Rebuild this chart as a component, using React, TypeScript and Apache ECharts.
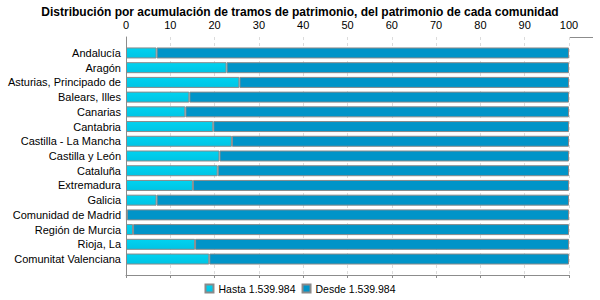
import React, { useEffect, useRef } from "react";
import * as echarts from "echarts";

const categories = [
  "Andalucía",
  "Aragón",
  "Asturias, Principado de",
  "Balears, Illes",
  "Canarias",
  "Cantabria",
  "Castilla - La Mancha",
  "Castilla y León",
  "Cataluña",
  "Extremadura",
  "Galicia",
  "Comunidad de Madrid",
  "Región de Murcia",
  "Rioja, La",
  "Comunitat Valenciana",
];

const hasta = [6.9, 22.7, 25.6, 14.3, 13.4, 19.7, 23.9, 21.1, 20.7, 15.1, 6.9, 0.2, 1.6, 15.6, 18.8];
const desde = [93.1, 77.3, 74.4, 85.7, 86.6, 80.3, 76.1, 78.9, 79.3, 84.9, 93.1, 99.8, 98.4, 84.4, 81.2];

const seriesNames = ["Hasta 1.539.984", "Desde 1.539.984"];
const titleText = "Distribución por acumulación de tramos de patrimonio, del patrimonio de cada comunidad";

const FONT = "'Liberation Sans', Arial, sans-serif";

export default function App() {
  const ref = useRef<HTMLDivElement>(null);
  useEffect(() => {
    if (!ref.current) return;
    const chart = echarts.init(ref.current, null, { renderer: "svg" });
    chart.setOption({
      animation: false,
      textStyle: { fontFamily: FONT },
      title: {
        text: titleText,
        left: "center",
        top: 1,
        textStyle: { fontSize: 12, fontWeight: "bold", color: "#000", fontFamily: FONT },
      },
      legend: {
        top: 283,
        left: "center",
        padding: 0,
        itemWidth: 8,
        itemHeight: 8,
        itemGap: 6,
        icon: "rect",
        textStyle: { fontSize: 10.5, color: "#000", fontFamily: FONT },
        data: seriesNames,
      },
      grid: [
        { left: 126, right: 31, top: 37, height: 238 },
        { left: 126, right: 31, top: 45.6, height: 220.8 },
      ],
      xAxis: [
        {
          gridIndex: 0,
          type: "value",
          position: "top",
          min: 0,
          max: 100,
          interval: 10,
          axisLine: { show: true, lineStyle: { color: "#8c8c8c" } },
          axisTick: { show: true, inside: true, length: 3, lineStyle: { color: "#8c8c8c" } },
          axisLabel: { fontSize: 11, color: "#000", margin: 7, fontFamily: FONT },
          splitLine: { show: true, lineStyle: { color: "#dcdcdc", type: [3, 3] } },
        },
        { gridIndex: 1, type: "value", min: 0, max: 100, show: false },
      ],
      yAxis: [
        {
          gridIndex: 0,
          type: "value",
          min: 0,
          max: 1,
          axisLine: { show: true, lineStyle: { color: "#8c8c8c" } },
          axisTick: { show: false },
          axisLabel: { show: false },
          splitLine: { show: false },
        },
        {
          gridIndex: 1,
          type: "category",
          data: categories,
          inverse: true,
          axisLine: { show: false },
          axisTick: { show: false },
          axisLabel: { fontSize: 11, color: "#000", margin: 5, fontFamily: FONT },
          splitLine: { show: false },
        },
      ],
      graphic: [
        {
          type: "line",
          shape: { x1: 569, y1: 37.5, x2: 593, y2: 37.5 },
          style: { stroke: "#8c8c8c", lineWidth: 1 },
          silent: true,
        },
      ],
      series: [
        {
          name: seriesNames[0],
          type: "bar",
          stack: "total",
          xAxisIndex: 1,
          yAxisIndex: 1,
          barWidth: 11,
          data: hasta,
          itemStyle: {
            color: new echarts.graphic.LinearGradient(0, 0, 0, 1, [
              { offset: 0, color: "#00d2f0" },
              { offset: 1, color: "#00c4e4" },
            ]),
            borderColor: "#8a8a8a",
            borderWidth: 1,
          },
        },
        {
          name: seriesNames[1],
          type: "bar",
          stack: "total",
          xAxisIndex: 1,
          yAxisIndex: 1,
          barWidth: 11,
          data: desde,
          itemStyle: {
            color: "#0094c8",
            borderColor: "#8a8a8a",
            borderWidth: 1,
          },
        },
      ],
    });
    return () => chart.dispose();
  }, []);
  return (
    <div
      ref={ref}
      style={{ position: "absolute", left: 0, top: 0, width: 600, height: 300 }}
    />
  );
}
